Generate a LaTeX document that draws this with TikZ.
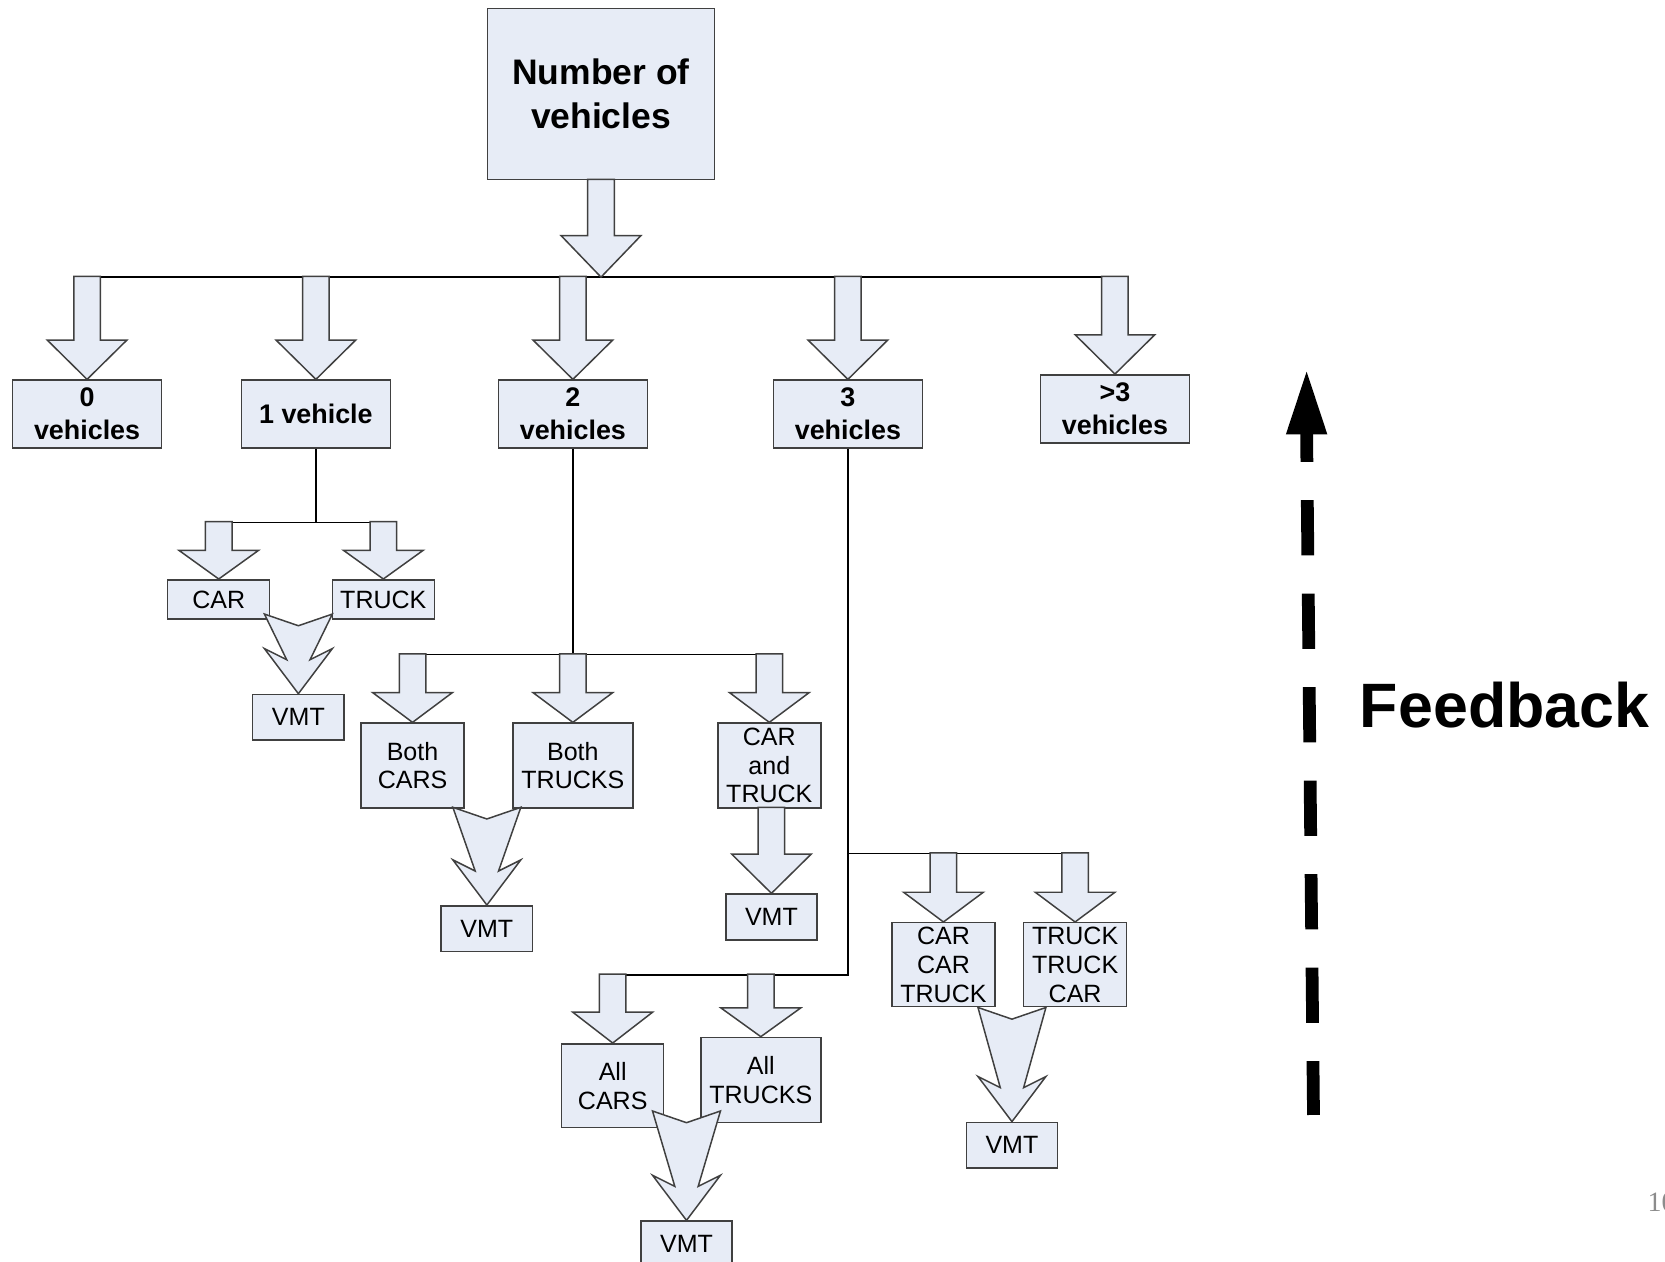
\documentclass[tikz,border=0pt]{standalone}
\usepackage{fontspec}
\setmainfont{Liberation Sans}
\newfontfamily\pagefont{Liberation Serif}
\definecolor{boxfill}{RGB}{231,236,246}
\definecolor{boxline}{RGB}{64,64,64}
% block arrow pointing down at #1: shaft length #2, head length #3
\newcommand{\downarr}[3]{\filldraw[blk] #1 -- ++(-37.5,-#3) -- ++(25,0) -- ++(0,-#2) -- ++(25,0) -- ++(0,#2) -- ++(25,0) -- cycle;}
% two-tailed block arrow joining two boxes, tip at #1, total length #2
\newcommand{\mergearr}[2]{\filldraw[blk] #1 -- ++(-32,-42.5) -- ++(21,10.5) -- ++(-21,{-(#2-32)}) -- ++(32,11) -- ++(32,-11) -- ++(-21,{#2-32}) -- ++(21,-10.5) -- cycle;}
\begin{document}
\begin{tikzpicture}[x=0.01cm, y=-0.01cm,
	box/.style={draw=boxline, fill=boxfill, line width=0.4pt, inner sep=0pt, align=center},
	bigbox/.style={box, font=\bfseries\fontsize{9.5}{11.7}\selectfont, minimum width=2.14cm, minimum height=1.61cm},
	catbox/.style={box, font=\bfseries\fontsize{7.2}{8.8}\selectfont, minimum width=1.4cm, minimum height=0.64cm},
	typebox/.style={box, font=\fontsize{6.7}{7.7}\selectfont, minimum width=0.97cm, minimum height=0.8cm},
	vmtbox/.style={box, font=\fontsize{6.7}{7.7}\selectfont, minimum width=0.86cm, minimum height=0.43cm},
	blk/.style={draw=boxline, fill=boxfill, line width=0.4pt},
	tree/.style={draw=black, line width=0.4pt}]
	\useasboundingbox (0,0) rectangle (1568,1188);
	% boxes
	\node[bigbox] (num) at (566,88.5) {Number of\\vehicles};
	\node[catbox] (v0) at (82,390) {0\\vehicles};
	\node[catbox] (v1) at (297.5,390) {1 vehicle};
	\node[catbox] (v2) at (539.5,390) {2\\vehicles};
	\node[catbox] (v3) at (798.5,390) {3\\vehicles};
	\node[catbox] (v4) at (1050,385) {>3\\vehicles};
	\node[typebox, minimum width=0.96cm, minimum height=0.37cm] (car1) at (206,564.5) {CAR};
	\node[typebox, minimum width=0.96cm, minimum height=0.37cm] (truck1) at (361,564.5) {TRUCK};
	\node[vmtbox] (vmt1) at (281,675.5) {VMT};
	\node[typebox] (bcars) at (388.5,721) {Both\\CARS};
	\node[typebox, minimum width=1.13cm] (btrucks) at (539.5,721) {Both\\TRUCKS};
	\node[typebox] (cartruck) at (724.5,721) {CAR\\and\\TRUCK};
	\node[vmtbox] (vmt2) at (458.5,874.5) {VMT};
	\node[vmtbox] (vmt3) at (726.5,863.5) {VMT};
	\node[typebox, minimum height=0.79cm] (cct) at (888.5,908.5) {CAR\\CAR\\TRUCK};
	\node[typebox, minimum height=0.79cm] (ttc) at (1012.5,908.5) {TRUCK\\TRUCK\\CAR};
	\node[vmtbox] (vmt5) at (953,1078.5) {VMT};
	\node[typebox, minimum width=0.96cm, minimum height=0.79cm] (acars) at (577,1022.5) {All\\CARS};
	\node[typebox, minimum width=1.13cm] (atrucks) at (716.5,1017) {All\\TRUCKS};
	\node[vmtbox] (vmt4) at (646.5,1171.5) {VMT};
	% tree lines
	\coordinate (hub) at (566,261);
	\coordinate (hubL) at (69.5,261); \coordinate (hubR) at (1062.5,261);
	\coordinate (j1) at (297.5,492); \coordinate (j1L) at (193.5,492); \coordinate (j1R) at (373.5,492);
	\coordinate (j2) at (539.5,616.5); \coordinate (j2L) at (388.5,616.5); \coordinate (j2R) at (737,616.5);
	\coordinate (j3) at (798.5,804); \coordinate (j3R) at (1025,804);
	\coordinate (j4) at (798.5,918); \coordinate (j4L) at (564.5,918);
	\draw[tree] (hubL) -- (hubR);
	\draw[tree] (v1.south) -- (j1) (j1L) -- (j1R);
	\draw[tree] (v2.south) -- (j2) (j2L) -- (j2R);
	\draw[tree] (v3.south) -- (j4) -- (j4L) (j3) -- (j3R);
	% block arrows
	\downarr{(hub)}{53}{39}
	\downarr{(v0.north)}{60}{37}
	\downarr{(v1.north)}{60}{37}
	\downarr{(v2.north)}{60}{37}
	\downarr{(v3.north)}{60}{37}
	\downarr{(v4.north)}{55}{37}
	\downarr{(car1.north)}{27}{27}
	\downarr{(truck1.north)}{27}{27}
	\downarr{(bcars.north)}{36.5}{28}
	\downarr{(btrucks.north)}{36.5}{28}
	\downarr{(cartruck.north)}{36.5}{28}
	\downarr{(vmt3.north)}{44}{37}
	\downarr{(cct.north)}{37}{28}
	\downarr{(ttc.north)}{37}{28}
	\downarr{(acars.north)}{36}{29}
	\downarr{(atrucks.north)}{32}{27}
	\mergearr{(vmt1.north)}{75}
	\mergearr{(vmt2.north)}{92}
	\mergearr{(vmt5.north)}{107.5}
	\mergearr{(vmt4.north)}{103}
	% feedback
	\coordinate (fbtop) at (1230.5,408); \coordinate (fbbot) at (1237,1050);
	\draw[line width=0.12cm, dash pattern=on 0.52cm off 0.36cm, dash phase=0.25cm] (fbtop) -- (fbbot);
	\fill (1211,409) -- (1250,409) -- (1230.5,350) -- cycle;
	\node[anchor=base west, inner sep=0pt, font=\bfseries\fontsize{16.8}{20}\selectfont] (fb) at (1280,685) {Feedback};
	\node[anchor=base west, inner sep=0pt, text=black!45, font=\pagefont\fontsize{7.5}{9}\selectfont] (pg) at (1551,1141) {10};
\end{tikzpicture}
\end{document}
